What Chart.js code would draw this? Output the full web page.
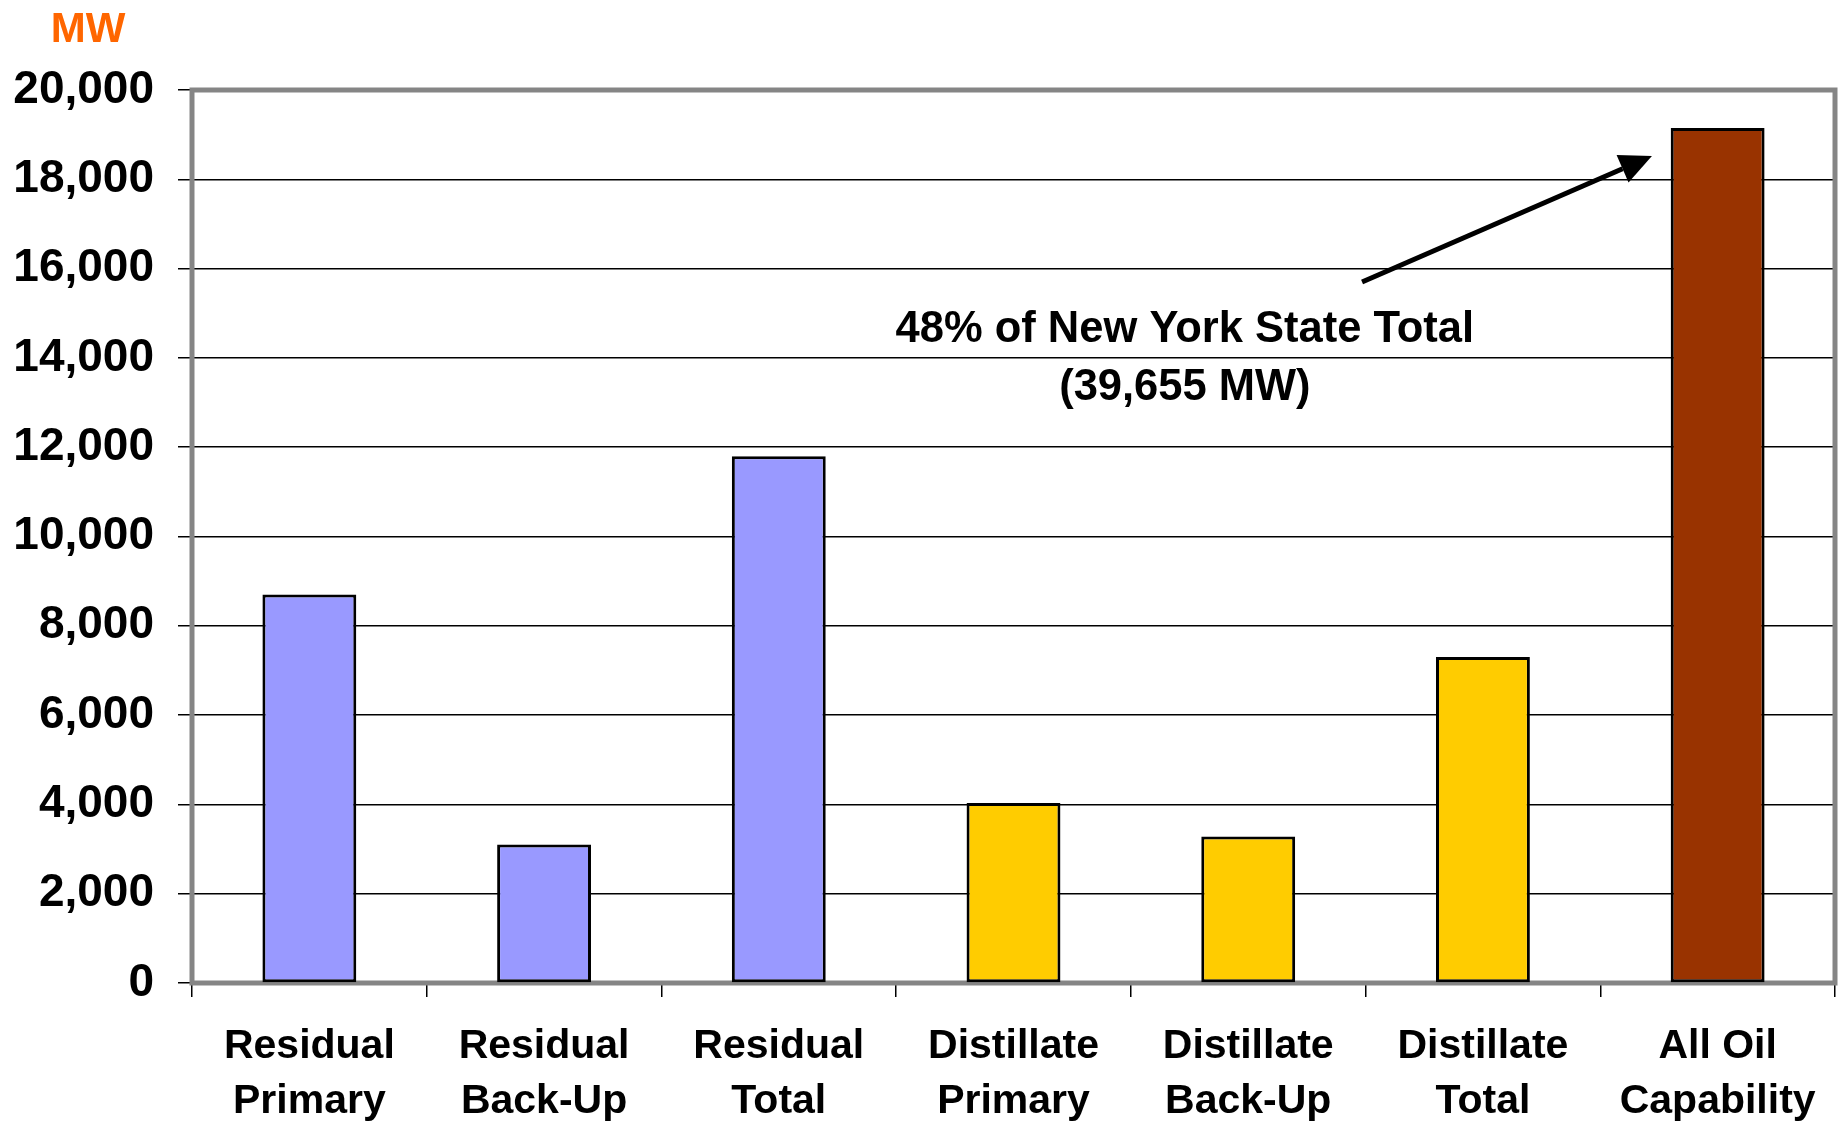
<!DOCTYPE html>
<html>
<head>
<meta charset="utf-8">
<script src="https://cdn.jsdelivr.net/npm/chart.js@4.4.1/dist/chart.umd.min.js"></script>
<style>
  html, body { margin: 0; padding: 0; background: #fff; }
  #wrap { width: 1839px; height: 1124px; }
</style>
</head>
<body>
<div id="wrap"><canvas id="c" width="1839" height="1124"></canvas></div>
<script>
// ---- Data ----
const categories = [
  ["Residual", "Primary"],
  ["Residual", "Back-Up"],
  ["Residual", "Total"],
  ["Distillate", "Primary"],
  ["Distillate", "Back-Up"],
  ["Distillate", "Total"],
  ["All Oil", "Capability"]
];
const capacityMW = [8700, 3100, 11800, 4030, 3280, 7300, 19150];
const barColors = ["#9999FF", "#9999FF", "#9999FF", "#FFCC00", "#FFCC00", "#FFCC00", "#993300"];
const yMin = 0, yMax = 20000, yStep = 2000;
const unitLabel = "MW";
const noteLines = ["48% of New York State Total", "(39,655 MW)"];
// annotation anchors in data units (category index, MW)
const noteAnchor = { x: 3.73, y: 14350, lineGapMW: 1300 };
const arrowFrom = { x: 4.485, y: 15700 };
const arrowTo = { x: 5.72, y: 18520 };

const FONT = '"Liberation Sans", Arial, sans-serif';

const overlay = {
  id: 'overlay',
  beforeDatasetsDraw(chart) {
    const { ctx, chartArea: a } = chart;
    ctx.save();
    ctx.strokeStyle = '#858585';
    ctx.lineWidth = 5;
    ctx.strokeRect(a.left, a.top, a.right - a.left, a.bottom - a.top);
    ctx.restore();
  },
  afterDraw(chart) {
    const { ctx, scales } = chart;
    const xs = scales.x, ys = scales.y;
    ctx.save();
    // unit label
    ctx.fillStyle = '#FF6600';
    ctx.font = 'bold 42px ' + FONT;
    ctx.textAlign = 'center';
    ctx.textBaseline = 'alphabetic';
    ctx.fillText(unitLabel, 88, 42);
    // note text
    ctx.fillStyle = '#000';
    ctx.font = 'bold 43.5px ' + FONT;
    const nx = xs.getPixelForValue(noteAnchor.x);
    noteLines.forEach((t, i) => {
      ctx.fillText(t, nx, ys.getPixelForValue(noteAnchor.y - i * noteAnchor.lineGapMW));
    });
    // arrow
    const x1 = xs.getPixelForValue(arrowFrom.x), y1 = ys.getPixelForValue(arrowFrom.y);
    const x2 = xs.getPixelForValue(arrowTo.x), y2 = ys.getPixelForValue(arrowTo.y);
    const ang = Math.atan2(y2 - y1, x2 - x1);
    const headLen = 32, headW = 15;
    const bx = x2 - headLen * Math.cos(ang), by = y2 - headLen * Math.sin(ang);
    ctx.strokeStyle = '#000';
    ctx.lineWidth = 5;
    ctx.beginPath();
    ctx.moveTo(x1, y1);
    ctx.lineTo(bx, by);
    ctx.stroke();
    ctx.beginPath();
    ctx.moveTo(x2, y2);
    ctx.lineTo(bx + headW * Math.sin(ang), by - headW * Math.cos(ang));
    ctx.lineTo(bx - headW * Math.sin(ang), by + headW * Math.cos(ang));
    ctx.closePath();
    ctx.fillStyle = '#000';
    ctx.fill();
    ctx.restore();
  }
};

new Chart(document.getElementById('c'), {
  type: 'bar',
  data: {
    labels: categories,
    datasets: [{
      data: capacityMW,
      backgroundColor: barColors,
      borderColor: '#000',
      borderWidth: 3,
      borderSkipped: false,
      categoryPercentage: 1,
      barPercentage: 0.4
    }]
  },
  options: {
    responsive: false,
    animation: false,
    devicePixelRatio: 1,
    layout: { padding: { top: 90, right: 4, left: 0, bottom: 0 } },
    plugins: { legend: { display: false }, tooltip: { enabled: false } },
    scales: {
      x: {
        offset: true,
        grid: { offset: true, drawOnChartArea: false, drawTicks: true, tickLength: 14, color: '#000', lineWidth: 1.5 },
        border: { display: false },
        ticks: {
          color: '#000',
          padding: 22,
          maxRotation: 0,
          autoSkip: false,
          font: { family: FONT, size: 41, weight: 'bold', lineHeight: 1.35 }
        },
        afterFit(scale) { scale.height = 141; }
      },
      y: {
        min: yMin, max: yMax,
        ticks: {
          stepSize: yStep,
          color: '#000',
          padding: 24,
          font: { family: FONT, size: 46, weight: 'bold' },
          callback: v => v.toLocaleString('en-US')
        },
        grid: { color: '#000', lineWidth: 1.5, tickLength: 14 },
        border: { display: false },
        afterFit(scale) { scale.width = 192; }
      }
    }
  },
  plugins: [overlay]
});
</script>
</body>
</html>
